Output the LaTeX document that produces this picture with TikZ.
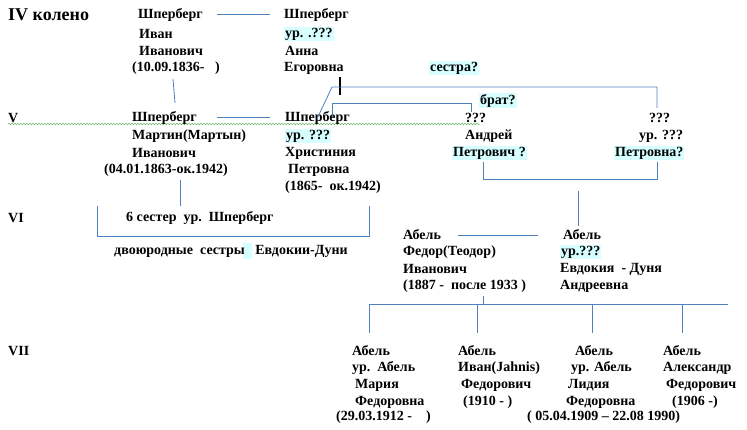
\documentclass[tikz,border=0pt]{standalone}
\usepackage{fontspec}
\setmainfont{Liberation Serif}
\usetikzlibrary{decorations.pathmorphing}
\definecolor{ln}{RGB}{79,129,189}
\definecolor{hl}{RGB}{215,255,255}
\definecolor{wg}{RGB}{80,170,80}
\begin{document}
\begin{tikzpicture}[x=1pt,y=-1pt,
  t/.style={anchor=west,inner sep=0pt,font=\fontsize{14}{16}\selectfont\bfseries},
  h/.style={t,fill=hl,inner sep=1pt},
  big/.style={t,font=\fontsize{18}{20}\selectfont\bfseries},
  con/.style={draw=ln,line width=0.8pt}]
\useasboundingbox (0,0) rectangle (747,430);
% generation labels
\node[big] (g4) at (8,15) {IV колено};
\node[t] (g5) at (8,118) {V};
\node[t] (g6) at (8,218) {VI};
\node[t] (g7) at (8,351) {VII};
\draw[wg,decorate,decoration={snake,amplitude=0.8pt,segment length=3pt}] (8,124) -- (480,124);
% IV
\node[t] (a1) at (138,15) {Шперберг};
\node[t] (a2) at (139,34) {Иван};
\node[t] (a3) at (139,51) {Иванович};
\node[t] (a4) at (132,68) {(10.09.1836-\ \ \ )};
\node[t] (b1) at (284,15) {Шперберг};
\node[h] (b2) at (284,34) {ур. .???};
\node[t] (b3) at (285,51) {Анна};
\node[t] (b4) at (284,68) {Егоровна};
\node[h] (sis) at (429,68) {сестра?};
\draw[con] (217,14) -- (270,14);
\draw[con] (173,79) -- (175,103);
\draw[line width=1.6pt] (340,77) -- (340,95);
% V
\node[t] (c1) at (132,118) {Шперберг};
\node[t] (c2) at (132,136) {Мартин(Мартын)};
\node[t] (c3) at (132,153) {Иванович};
\node[t] (c4) at (104,170) {(04.01.1863-ок.1942)};
\draw[con] (217,117) -- (270,117);
\node[t] (d1) at (285,118) {Шперберг};
\node[h] (d2) at (285,136) {ур. ???};
\node[t] (d3) at (285,153) {Христиния};
\node[t] (d4) at (288,170) {Петровна};
\node[t] (d5) at (285,187) {(1865-\ \ ок.1942)};
\node[h] (bro) at (479,101) {брат?};
\node[t] (e1) at (465,118) {???};
\node[t] (e2) at (465,136) {Андрей};
\node[h] (e3) at (452,153) {Петрович ?};
\node[t] (f1) at (649,118) {???};
\node[t] (f2) at (639,136) {ур. ???};
\node[h] (f3) at (614,153) {Петровна?};
\draw[con] (317,119) -- (332,87) -- (657,87) -- (657,108);
\draw[con] (332,117) -- (332,103) -- (471,103) -- (471,112);
\draw[con] (483,162) -- (483,179) -- (657,179) -- (657,162);
\draw[con] (578,191) -- (578,226);
% VI
\draw[con] (180,180) -- (180,206);
\draw[con] (97,206) -- (97,236) -- (369,236) -- (369,206);
\node[t] (s6) at (126,218) {6 сестер\ \ ур.\ \ Шперберг};
\fill[hl] (243,243) rectangle (252,259);
\node[t] (cous) at (114,251) {двоюродные\ \ сестры\ \ \ Евдокии-Дуни};
\node[t] (g1) at (403,235) {Абель};
\node[t] (g2) at (403,252) {Федор(Теодор)};
\node[t] (g3) at (403,269) {Иванович};
\node[t] (gg4) at (403,286) {(1887 -\ \ после 1933 )};
\draw[con] (458,235) -- (538,235);
\node[t] (k1) at (563,235) {Абель};
\node[h] (k2) at (560,252) {ур.???};
\node[t] (k3) at (560,269) {Евдокия\ \ - Дуня};
\node[t] (k4) at (560,286) {Андреевна};
\draw[con] (483,296) -- (483,304);
\draw[con] (369,304) -- (728,304);
\foreach \x in {369,477,592,682} \draw[con] (\x,304) -- (\x,333);
% VII
\node[t] (m1) at (352,351) {Абель};
\node[t] (m2) at (352,368) {ур.\ \ Абель};
\node[t] (m3) at (355,385) {Мария};
\node[t] (m4) at (355,402) {Федоровна};
\node[t] (m5) at (336,417) {(29.03.1912 -\ \ \ \ )};
\node[t] (n1) at (458,351) {Абель};
\node[t] (n2) at (458,368) {Иван(Jahnis)};
\node[t] (n3) at (461,385) {Федорович};
\node[t] (n4) at (463,402) {(1910 -\ )};
\node[t] (p1) at (575,351) {Абель};
\node[t] (p2) at (571,368) {ур. Абель};
\node[t] (p3) at (568,385) {Лидия};
\node[t] (p4) at (566,402) {Федоровна};
\node[t] (p5) at (527,417) {( 05.04.1909 – 22.08 1990)};
\node[t] (q1) at (663,351) {Абель};
\node[t] (q2) at (663,368) {Александр};
\node[t] (q3) at (666,385) {Федорович};
\node[t] (q4) at (672,402) {(1906 -)};
\end{tikzpicture}
\end{document}
